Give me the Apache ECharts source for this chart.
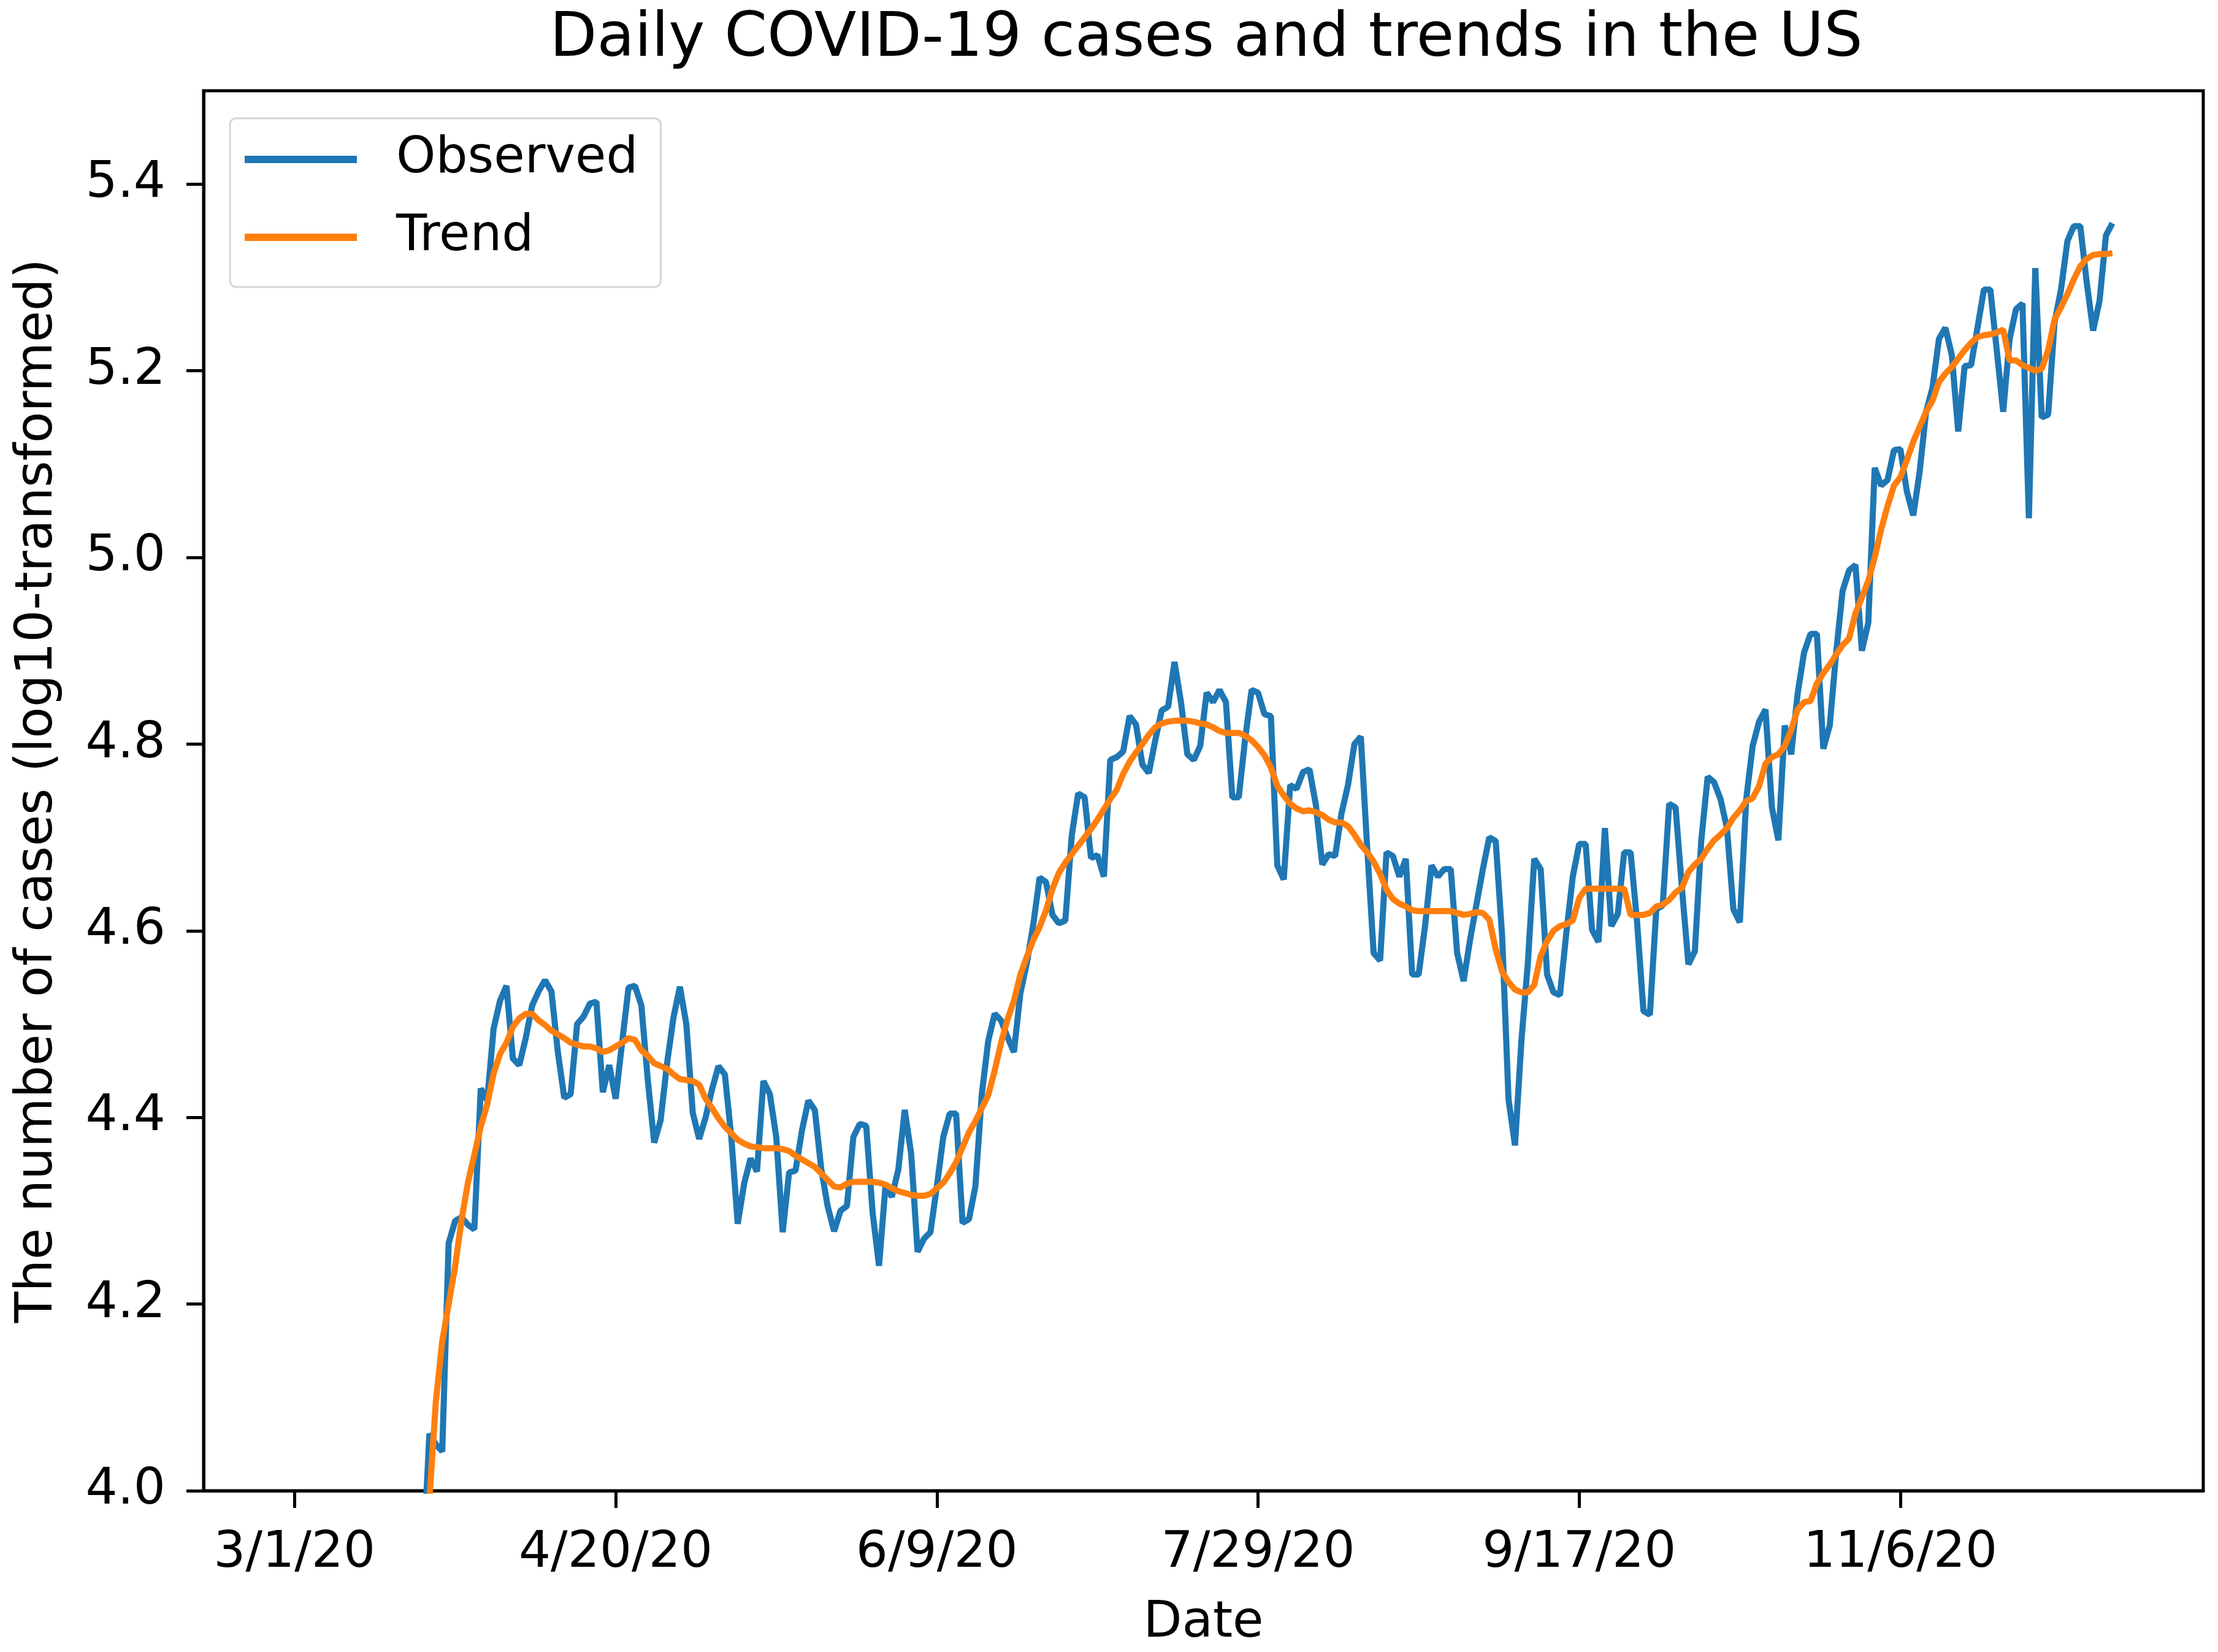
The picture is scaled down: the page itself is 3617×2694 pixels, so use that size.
<!DOCTYPE html>
<html lang="en">
<head>
    <meta charset="UTF-8">
    <title>Daily COVID-19 cases and trends in the US</title>
    <script src="https://cdn.jsdelivr.net/npm/echarts@6/dist/echarts.min.js"></script>
    <style>
        body {
            margin: 0;
            background: #fff;
        }
        #box {
            width: 3617px;
            height: 2694px;
        }
    </style>
</head>
<body>
<div id="box"></div>
<script>
    // day 0 = 3/1/20, both series start at day 18
    var firstDay = 18;
    var observed = [
        3.70, 3.80, 3.92, 4.061, 4.050, 4.042, 4.265, 4.289, 4.293, 4.285,
        4.280, 4.431, 4.418, 4.495, 4.525, 4.541, 4.463, 4.456, 4.485, 4.520,
        4.535, 4.547, 4.535, 4.470, 4.421, 4.425, 4.500, 4.508, 4.522, 4.524,
        4.427, 4.456, 4.420, 4.480, 4.539, 4.541, 4.520, 4.440, 4.373, 4.397,
        4.458, 4.507, 4.540, 4.500, 4.405, 4.377, 4.400, 4.430, 4.455, 4.446,
        4.379, 4.286, 4.329, 4.356, 4.342, 4.439, 4.425, 4.379, 4.277, 4.341,
        4.343, 4.386, 4.418, 4.408, 4.345, 4.305, 4.278, 4.300, 4.305, 4.379,
        4.393, 4.391, 4.298, 4.241, 4.326, 4.315, 4.344, 4.408, 4.361, 4.256,
        4.270, 4.277, 4.326, 4.379, 4.404, 4.404, 4.287, 4.291, 4.326, 4.425,
        4.482, 4.511, 4.504, 4.486, 4.470, 4.533, 4.565, 4.606, 4.657, 4.652,
        4.617, 4.608, 4.611, 4.702, 4.747, 4.743, 4.678, 4.681, 4.658, 4.783,
        4.786, 4.792, 4.830, 4.821, 4.778, 4.769, 4.804, 4.836, 4.840, 4.888,
        4.845, 4.789, 4.783, 4.798, 4.855, 4.845, 4.858, 4.845, 4.743, 4.743,
        4.806, 4.858, 4.855, 4.832, 4.830, 4.670, 4.655, 4.756, 4.752, 4.770,
        4.773, 4.735, 4.671, 4.682, 4.680, 4.726, 4.756, 4.800, 4.808, 4.688,
        4.576, 4.568, 4.684, 4.680, 4.658, 4.677, 4.553, 4.553, 4.605, 4.670,
        4.658, 4.666, 4.666, 4.576, 4.546, 4.590, 4.628, 4.666, 4.700, 4.696,
        4.594, 4.419, 4.370, 4.482, 4.565, 4.677, 4.666, 4.553, 4.534, 4.531,
        4.598, 4.658, 4.693, 4.693, 4.601, 4.588, 4.710, 4.605, 4.618, 4.684,
        4.684, 4.610, 4.514, 4.510, 4.623, 4.627, 4.736, 4.732, 4.645, 4.564,
        4.578, 4.697, 4.765, 4.759, 4.741, 4.710, 4.623, 4.609, 4.741, 4.798,
        4.824, 4.837, 4.732, 4.697, 4.820, 4.789, 4.854, 4.898, 4.918, 4.918,
        4.795, 4.820, 4.898, 4.964, 4.986, 4.992, 4.900, 4.930, 5.096, 5.077,
        5.083, 5.115, 5.116, 5.071, 5.045, 5.092, 5.156, 5.182, 5.234, 5.246,
        5.217, 5.135, 5.205, 5.206, 5.246, 5.287, 5.287, 5.222, 5.156, 5.234,
        5.266, 5.272, 5.042, 5.310, 5.150, 5.153, 5.252, 5.287, 5.339, 5.355,
        5.355, 5.295, 5.243, 5.275, 5.345, 5.358
    ];
    var trend = [
        3.78, 3.85, 3.93, 3.99, 4.095, 4.160, 4.200, 4.240, 4.290, 4.330,
        4.360, 4.390, 4.414, 4.447, 4.468, 4.480, 4.497, 4.506, 4.511, 4.511,
        4.504, 4.499, 4.493, 4.489, 4.485, 4.480, 4.478, 4.476, 4.476, 4.474,
        4.470, 4.472, 4.476, 4.480, 4.485, 4.483, 4.472, 4.466, 4.458, 4.455,
        4.452, 4.446, 4.441, 4.440, 4.439, 4.435, 4.420, 4.410, 4.399, 4.390,
        4.383, 4.376, 4.372, 4.369, 4.368, 4.367, 4.367, 4.367, 4.366, 4.364,
        4.359, 4.355, 4.351, 4.347, 4.340, 4.333, 4.326, 4.325, 4.329, 4.331,
        4.331, 4.331, 4.331, 4.330, 4.328, 4.324, 4.321, 4.319, 4.317, 4.316,
        4.316, 4.318, 4.324, 4.330, 4.340, 4.352, 4.368, 4.384, 4.396, 4.410,
        4.424, 4.450, 4.480, 4.505, 4.525, 4.553, 4.572, 4.590, 4.604, 4.622,
        4.645, 4.662, 4.673, 4.682, 4.691, 4.700, 4.709, 4.719, 4.730, 4.741,
        4.751, 4.768, 4.781, 4.791, 4.800, 4.810, 4.818, 4.822, 4.824, 4.825,
        4.825, 4.825, 4.824, 4.822, 4.821, 4.818, 4.814, 4.812, 4.812, 4.812,
        4.809, 4.804, 4.797, 4.788, 4.775, 4.755, 4.745, 4.736, 4.731, 4.728,
        4.729, 4.727, 4.724, 4.719, 4.716, 4.716, 4.712, 4.703, 4.692, 4.684,
        4.674, 4.661, 4.644, 4.634, 4.629, 4.626, 4.622, 4.621, 4.621, 4.621,
        4.621, 4.621, 4.621, 4.619, 4.617, 4.618, 4.620, 4.619, 4.612, 4.580,
        4.556, 4.545, 4.537, 4.534, 4.534, 4.542, 4.573, 4.589, 4.600, 4.605,
        4.607, 4.611, 4.635, 4.645, 4.645, 4.645, 4.645, 4.645, 4.645, 4.645,
        4.617, 4.617, 4.617, 4.619, 4.626, 4.628, 4.633, 4.641, 4.646, 4.663,
        4.671, 4.677, 4.688, 4.697, 4.703, 4.710, 4.721, 4.729, 4.739, 4.742,
        4.755, 4.779, 4.786, 4.789, 4.798, 4.815, 4.837, 4.845, 4.846, 4.865,
        4.876, 4.885, 4.896, 4.906, 4.913, 4.940, 4.957, 4.975, 5.000, 5.030,
        5.055, 5.077, 5.086, 5.104, 5.124, 5.140, 5.156, 5.168, 5.188, 5.197,
        5.204, 5.213, 5.222, 5.230, 5.236, 5.238, 5.239, 5.241, 5.244, 5.211,
        5.211, 5.206, 5.203, 5.200, 5.202, 5.222, 5.255, 5.268, 5.282, 5.298,
        5.312, 5.320, 5.324, 5.325, 5.325, 5.326
    ];
    var xTickDays = [0, 50, 100, 150, 200, 250];
    var xTickLabels = ['3/1/20', '4/20/20', '6/9/20', '7/29/20', '9/17/20', '11/6/20'];
    var yTicks = [4.0, 4.2, 4.4, 4.6, 4.8, 5.0, 5.2, 5.4];

    function pairs(arr) {
        return arr.map(function (v, i) { return [firstDay + i, v]; });
    }

    var font = 'DejaVu Sans';
    var myChart = echarts.init(document.getElementById('box'));
    var option = {
        backgroundColor: '#fff',
        animation: false,
        title: {
            text: 'Daily COVID-19 cases and trends in the US',
            left: 1962,
            top: 10,
            textAlign: 'center',
            textStyle: {fontFamily: font, fontSize: 100, fontWeight: 'normal', color: '#000'}
        },
        grid: {
            left: 332,
            right: 24,
            top: 148,
            bottom: 252,
            show: true,
            borderColor: '#000',
            borderWidth: 5,
            backgroundColor: 'transparent'
        },
        legend: {
            orient: 'vertical',
            left: 375,
            top: 193,
            padding: [26, 37, 40, 24],
            icon: 'rect',
            itemWidth: 183,
            itemHeight: 12,
            itemGap: 45,
            backgroundColor: 'rgba(255,255,255,0.8)',
            borderColor: '#d6d6d6',
            borderWidth: 3,
            borderRadius: 10,
            textStyle: {fontFamily: font, fontSize: 82, color: '#000', padding: [0, 0, 0, 59]},
            data: ['Observed', 'Trend']
        },
        xAxis: {
            type: 'value',
            min: -14.15,
            max: 297.15,
            name: 'Date',
            nameLocation: 'middle',
            nameGap: 176,
            nameTextStyle: {fontFamily: font, fontSize: 82, color: '#000'},
            axisLine: {show: true, onZero: false, lineStyle: {color: '#000', width: 5}},
            axisTick: {show: true, length: 28, customValues: xTickDays, lineStyle: {color: '#000', width: 5}},
            axisLabel: {
                customValues: xTickDays,
                margin: 62,
                fontFamily: font, fontSize: 82, color: '#000',
                formatter: function (v) {
                    var i = xTickDays.indexOf(Math.round(v));
                    return i >= 0 ? xTickLabels[i] : '';
                }
            },
            splitLine: {show: false}
        },
        yAxis: {
            type: 'value',
            min: 4.0,
            max: 5.5,
            name: 'The number of cases (log10-transformed)',
            nameLocation: 'middle',
            nameGap: 228,
            nameTextStyle: {fontFamily: font, fontSize: 83, color: '#000'},
            axisLine: {show: true, onZero: false, lineStyle: {color: '#000', width: 5}},
            axisTick: {show: true, length: 28, customValues: yTicks, lineStyle: {color: '#000', width: 5}},
            axisLabel: {
                customValues: yTicks,
                margin: 62,
                fontFamily: font, fontSize: 82, color: '#000',
                formatter: function (v) { return v.toFixed(1); }
            },
            splitLine: {show: false}
        },
        series: [
            {
                name: 'Observed',
                type: 'line',
                data: pairs(observed),
                showSymbol: false,
                symbol: 'none',
                lineStyle: {color: '#1f77b4', width: 10},
                itemStyle: {color: '#1f77b4'},
                clip: true
            },
            {
                name: 'Trend',
                type: 'line',
                data: pairs(trend),
                showSymbol: false,
                symbol: 'none',
                lineStyle: {color: '#ff7f0e', width: 10},
                itemStyle: {color: '#ff7f0e'},
                clip: true
            }
        ]
    };
    myChart.setOption(option);
</script>
</body>
</html>
